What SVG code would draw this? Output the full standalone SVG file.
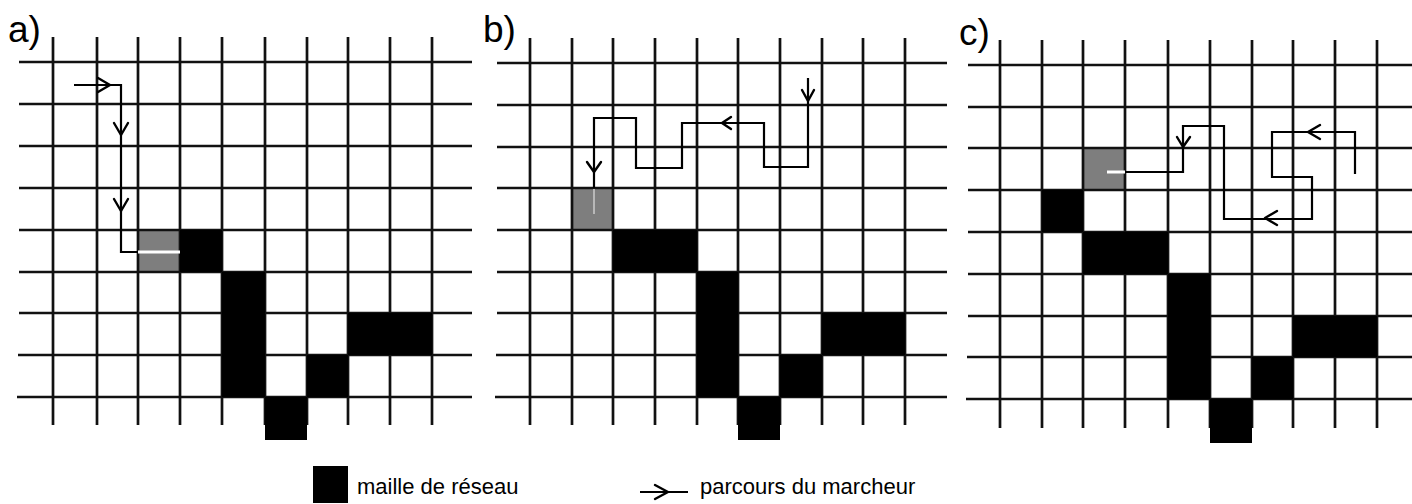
<svg xmlns="http://www.w3.org/2000/svg" width="1412" height="504" viewBox="0 0 1412 504">
<style>
.grid{fill:none;stroke:#111;stroke-width:2.7}
.blk{fill:#000}
.gry{fill:#7e7e7e}
.walk{fill:none;stroke:#000;stroke-width:2.2;stroke-linejoin:miter}
.head{fill:none;stroke:#000;stroke-width:2.4;stroke-linecap:round;stroke-linejoin:round}
.wline{fill:none;stroke:#fff;stroke-width:3}
.lbl{font-family:"Liberation Sans",Arial,sans-serif;font-size:37px;fill:#000}
.leg{font-family:"Liberation Sans",Arial,sans-serif;font-size:22px;fill:#000}
</style>
<rect x="0" y="0" width="1412" height="504" fill="#fff"/>

<g id="panel-a">
<rect class="gry" x="138" y="230" width="42" height="42"/>
<path class="grid" d="M53,37V425M97,37V425M138,37V425M180,37V425M222,37V425M265,37V425M307,37V425M348,37V425M390,37V425M432,37V425M19,62H472M19,104H472M19,146H472M19,188H472M19,230H472M19,272H472M19,313H472M18,355H472M17,397H472"/>
<rect class="blk" x="180" y="230" width="42" height="42"/>
<rect class="blk" x="222" y="272" width="43" height="41"/>
<rect class="blk" x="222" y="313" width="43" height="42"/>
<rect class="blk" x="222" y="355" width="43" height="42"/>
<rect class="blk" x="265" y="397" width="42" height="43"/>
<rect class="blk" x="307" y="355" width="41" height="42"/>
<rect class="blk" x="348" y="313" width="42" height="42"/>
<rect class="blk" x="390" y="313" width="42" height="42"/>
<text class="lbl" x="8" y="42">a)</text>
</g>

<g id="panel-b">
<rect class="gry" x="572" y="188" width="41" height="42"/>
<path class="grid" d="M530,38V425M572,38V425M613,38V425M655,38V425M697,38V425M738,38V425M780,38V425M822,38V425M863,38V425M905,38V425M497,63H947M497,105H947M497,147H947M497,188H947M497,230H947M497,272H947M497,313H947M496,355H947M495,397H947"/>
<rect class="blk" x="613" y="230" width="42" height="42"/>
<rect class="blk" x="655" y="230" width="42" height="42"/>
<rect class="blk" x="697" y="272" width="41" height="41"/>
<rect class="blk" x="697" y="313" width="41" height="42"/>
<rect class="blk" x="697" y="355" width="41" height="42"/>
<rect class="blk" x="738" y="397" width="42" height="43"/>
<rect class="blk" x="780" y="355" width="42" height="42"/>
<rect class="blk" x="822" y="313" width="41" height="42"/>
<rect class="blk" x="863" y="313" width="42" height="42"/>
<text class="lbl" x="483" y="42">b)</text>
</g>

<g id="panel-c">
<rect class="gry" x="1083" y="148" width="42" height="42"/>
<path class="grid" d="M1000,40V428M1042,40V428M1083,40V428M1125,40V428M1168,40V428M1210,40V428M1252,40V428M1293,40V428M1335,40V428M1377,40V428M968,65H1412M968,107H1412M968,148H1412M968,190H1412M968,232H1412M968,274H1412M968,316H1412M967,357H1412M966,399H1412"/>
<rect class="blk" x="1042" y="190" width="41" height="42"/>
<rect class="blk" x="1083" y="232" width="42" height="42"/>
<rect class="blk" x="1125" y="232" width="43" height="42"/>
<rect class="blk" x="1168" y="274" width="42" height="42"/>
<rect class="blk" x="1168" y="316" width="42" height="41"/>
<rect class="blk" x="1168" y="357" width="42" height="42"/>
<rect class="blk" x="1210" y="399" width="42" height="44"/>
<rect class="blk" x="1252" y="357" width="41" height="42"/>
<rect class="blk" x="1293" y="316" width="42" height="41"/>
<rect class="blk" x="1335" y="316" width="42" height="41"/>
<text class="lbl" x="959" y="45">c)</text>
</g>

<g id="walker-paths">
<path class="walk" d="M74,85H121V252H138"/>
<path class="wline" d="M138,252H180"/>
<path class="head" d="M98,78L110,85L98,92"/>
<path class="head" d="M114,123L121,135L128,123"/>
<path class="head" d="M114,199L121,211L128,199"/>

<path class="walk" d="M808,78V167H764V123H682V168H636V118H594V188"/>
<path d="M594,189V214" fill="none" stroke="#b8b8b8" stroke-width="2"/>
<path class="head" d="M802,90L808,101L814,90"/>
<path class="head" d="M731,117L722,123L731,129"/>
<path class="head" d="M587,162L594,172L601,162"/>

<path class="walk" d="M1355,174V132H1272V177H1312V219H1224V126H1183V172H1125"/>
<path class="wline" d="M1125,172H1107"/>
<path class="head" d="M1320,125L1308,132L1320,139"/>
<path class="head" d="M1277,211L1265,218L1277,225"/>
<path class="head" d="M1177,137L1183,147L1190,137"/>
</g>

<g id="legend">
<rect class="blk" x="313" y="466" width="35" height="37"/>
<text class="leg" x="357" y="494">maille de réseau</text>
<path class="walk" d="M640,492H688"/>
<path class="head" d="M655,485L668,492L655,499"/>
<text class="leg" x="700" y="494">parcours du marcheur</text>
</g>
</svg>
